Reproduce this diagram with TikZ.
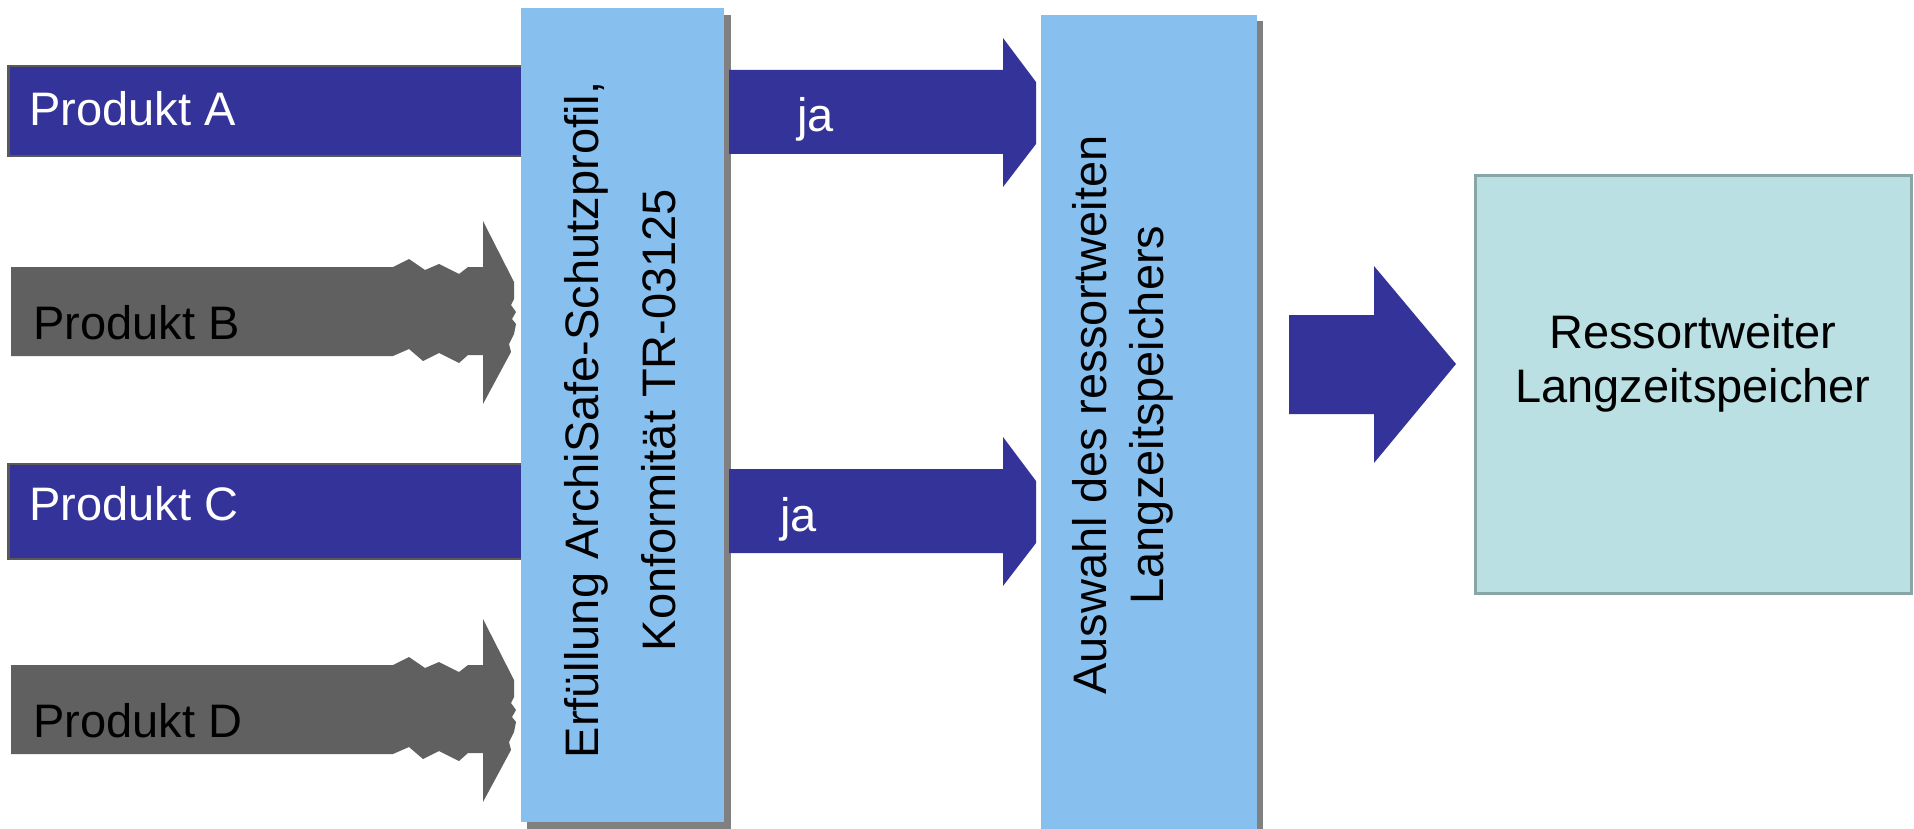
\documentclass[tikz,border=0pt]{standalone}
\usepackage{fontspec}
\setmainfont{Liberation Sans}

\begin{document}
\begin{tikzpicture}[x=1pt, y=-1pt, font=\fontsize{47}{56}\selectfont,
  bar/.style={fill=navy, draw=black!65, line width=2.5pt},
  block/.style={fill=skyblue},
  shade/.style={fill=black!50},
  lbl/.style={anchor=base west, inner sep=0pt},
  vtext/.style={rotate=90, align=center, inner sep=0pt}]
\definecolor{navy}{RGB}{51,51,153}\definecolor{graybar}{RGB}{96,96,96}
\definecolor{skyblue}{RGB}{135,192,238}\definecolor{storefill}{RGB}{186,224,227}\definecolor{storeline}{RGB}{136,166,166}
\useasboundingbox (0,0) rectangle (1914,829);
% products A and C
\draw[bar] (8.5,66) rectangle (524,156);
\node[lbl, text=white] (prodA) at (29,126) {Produkt A};
\draw[bar] (8.5,464) rectangle (524,559);
\node[lbl, text=white] (prodC) at (29,520) {Produkt C};
% ---- products B and D: broken arrows
\foreach \dy/\t in {0/B,398/D} {
  \fill[graybar, shift={(0,\dy)}] (11,267) -- (393,267) -- (409,259) -- (425,270) -- (439,264) -- (459,274)
    -- (468,267) -- (483,267) -- (483,221) -- (514,282) -- (514,299) -- (511,305) -- (516,312) -- (512,319)
    -- (516,324) -- (514,334) -- (509,344) -- (511,352) -- (483,404) -- (483,355) -- (468,355) -- (459,363)
    -- (439,353) -- (423,361) -- (409,349) -- (393,356) -- (11,356) -- cycle;
  \node[lbl] (prod\t) at (33,{339+\dy}) {Produkt \t};
}
% ---- check against profile
\fill[shade] (527,15) rectangle (731,829);
\fill[block] (521,8.5) rectangle (724,822);
\node[vtext] (check) at (620,420) {Erfüllung ArchiSafe-Schutzprofil,\\[21pt]Konformität TR-03125};
% ---- ja arrows
\foreach \dy/\x in {0/797,399/780} {
  \fill[navy, shift={(0,\dy)}] (729,70) -- (1003,70) -- (1003,38) -- (1036,82) -- (1036,144) -- (1003,187)
    -- (1003,154) -- (729,154) -- cycle;
  \node[lbl, text=white] at (\x,{132+\dy}) {ja};
}
% ---- selection
\fill[shade] (1047,21) rectangle (1263,829);
\fill[block] (1041,15) rectangle (1257,829);
\node[vtext, font=\fontsize{47}{57}\selectfont] (select) at (1123,415) {Auswahl des ressortweiten\\Langzeitspeichers};
% ---- result
\fill[navy] (1289,315) -- (1374,315) -- (1374,266) -- (1456,364) -- (1374,463) -- (1374,414) -- (1289,414) -- cycle;
\draw[fill=storefill, draw=storeline, line width=3pt] (1475,176) rectangle (1911,593);
\node[align=center, inner sep=0pt, font=\fontsize{47}{54}\selectfont] (store) at (1693,363) {Ressortweiter\\Langzeitspeicher};
\end{tikzpicture}
\end{document}
